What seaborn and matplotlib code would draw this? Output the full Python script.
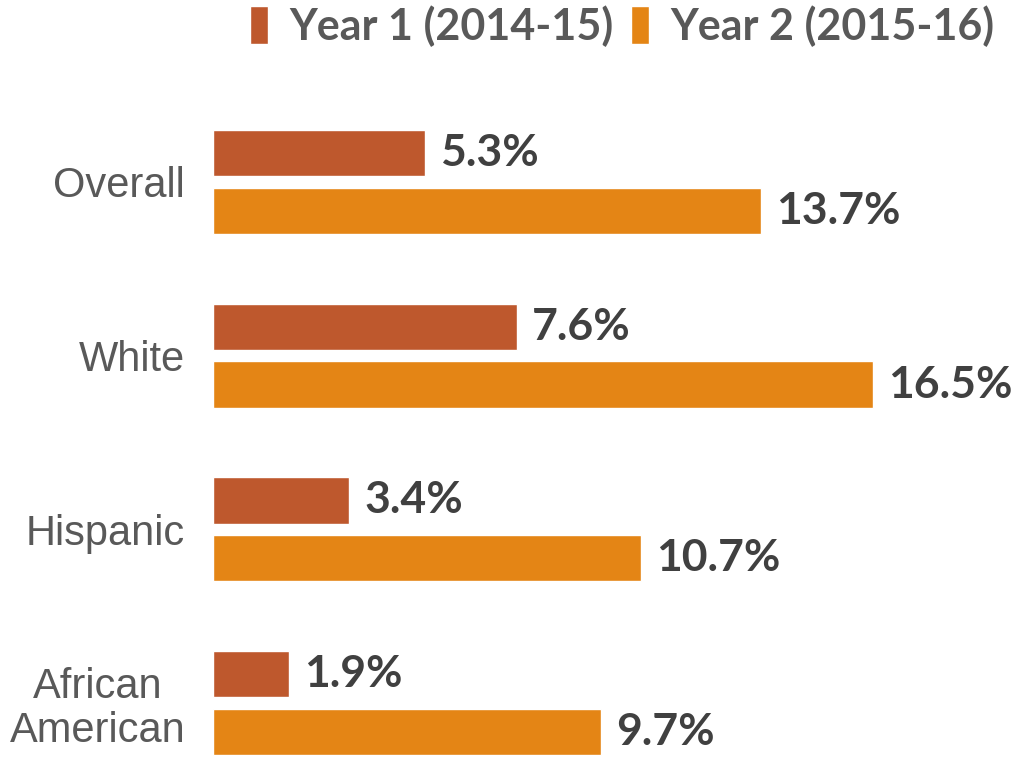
import seaborn as sns
import matplotlib.pyplot as plt
import pandas as pd

# data
groups = ["Overall", "White", "Hispanic", "African\nAmerican"]
years = ["Year 1 (2014-15)", "Year 2 (2015-16)"]
year1 = [5.3, 7.6, 3.4, 1.9]
year2 = [13.7, 16.5, 10.7, 9.7]
colors = ["#BE582D", "#E48515"]

df = pd.DataFrame({
    "group": groups * 2,
    "year": [years[0]] * 4 + [years[1]] * 4,
    "value": year1 + year2,
})

sns.set_style("white")
fig = plt.figure(figsize=(10.25, 7.57), dpi=100)
ax = fig.add_axes([213 / 1025, 0, 1 - 213 / 1025, 1])

sns.barplot(data=df, y="group", x="value", hue="year", palette=colors,
            orient="h", width=0.667, gap=0.2, saturation=1, ax=ax, legend=True)

# value labels
for cont in ax.containers:
    ax.bar_label(cont, labels=[f"{v:.1f}%" for v in cont.datavalues],
                 padding=11, fontsize=32, fontweight="bold", color="#404040",
                 family="Lato")

ax.set_xlim(0, (1025 - 213) / 40)
ax.set_ylim(3.311, -1.048)
ax.set_xlabel("")
ax.set_ylabel("")
ax.set_xticks([])
ax.tick_params(axis="y", length=0, pad=20)
for lab in ax.get_yticklabels():
    lab.set_fontsize(30)
    lab.set_color("#595959")
    lab.set_family("Liberation Sans")
    lab.set_multialignment("center")
    lab.set_linespacing(1.1)
sns.despine(ax=ax, left=True, bottom=True)

handles, labels = ax.get_legend_handles_labels()
ax.get_legend().remove()
leg = fig.legend(handles, labels, loc="center", bbox_to_anchor=(622 / 1025, 1 - 26 / 757),
                 ncol=2, frameon=False, handlelength=0.42, handleheight=0.95,
                 handletextpad=0.5, columnspacing=0.4, borderpad=0,
                 prop={"family": "Lato", "weight": "bold", "size": 31})
for t in leg.get_texts():
    t.set_color("#595959")

fig.savefig("out.png", dpi=100)
